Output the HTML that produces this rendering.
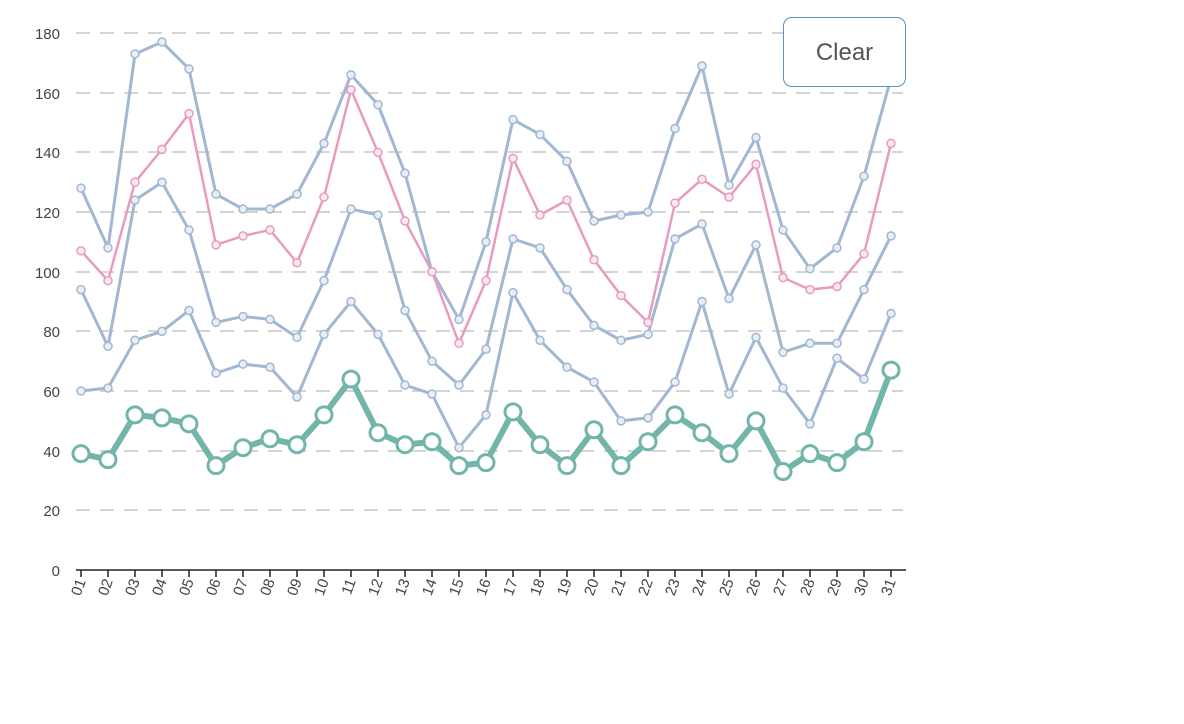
<!DOCTYPE html>
<html><head><meta charset="utf-8"><style>
html,body{margin:0;padding:0;background:#fff;width:1184px;height:724px;overflow:hidden}
svg{position:absolute;left:0;top:0}
text{font-family:"Liberation Sans",sans-serif;font-size:15px;fill:#444}
.btn{position:absolute;left:783px;top:17px;width:123px;height:70px;border:1.5px solid #5b8fcf;border-radius:9px;box-sizing:border-box;font:24px "Liberation Sans",sans-serif;color:#555;text-align:center;line-height:70px;background:#fff}
</style></head><body>
<svg id="s" width="1184" height="724">
<g stroke="#bbb" stroke-width="1.3" stroke-dasharray="14,10">
<line x1="76" x2="903" y1="33" y2="33"/><line x1="76" x2="903" y1="93" y2="93"/><line x1="76" x2="903" y1="152" y2="152"/><line x1="76" x2="903" y1="212" y2="212"/><line x1="76" x2="903" y1="272" y2="272"/><line x1="76" x2="903" y1="331" y2="331"/><line x1="76" x2="903" y1="391" y2="391"/><line x1="76" x2="903" y1="451" y2="451"/><line x1="76" x2="903" y1="510" y2="510"/>
</g>
<g text-anchor="end">
<text x="60" y="39">180</text><text x="60" y="99">160</text><text x="60" y="158">140</text><text x="60" y="218">120</text><text x="60" y="278">100</text><text x="60" y="337">80</text><text x="60" y="397">60</text><text x="60" y="457">40</text><text x="60" y="516">20</text><text x="60" y="576">0</text>
</g>
<line x1="76" x2="906" y1="570" y2="570" stroke="#222" stroke-width="1.5"/>
<g id="ticks" stroke="#222" stroke-width="1.5"></g>
<g id="series"></g>
<g text-anchor="end">
<text transform="translate(86,581) rotate(-70)">01</text><text transform="translate(113,581) rotate(-70)">02</text><text transform="translate(140,581) rotate(-70)">03</text><text transform="translate(167,581) rotate(-70)">04</text><text transform="translate(194,581) rotate(-70)">05</text><text transform="translate(221,581) rotate(-70)">06</text><text transform="translate(248,581) rotate(-70)">07</text><text transform="translate(275,581) rotate(-70)">08</text><text transform="translate(302,581) rotate(-70)">09</text><text transform="translate(329,581) rotate(-70)">10</text><text transform="translate(356,581) rotate(-70)">11</text><text transform="translate(383,581) rotate(-70)">12</text><text transform="translate(410,581) rotate(-70)">13</text><text transform="translate(437,581) rotate(-70)">14</text><text transform="translate(464,581) rotate(-70)">15</text><text transform="translate(491,581) rotate(-70)">16</text><text transform="translate(518,581) rotate(-70)">17</text><text transform="translate(545,581) rotate(-70)">18</text><text transform="translate(572,581) rotate(-70)">19</text><text transform="translate(599,581) rotate(-70)">20</text><text transform="translate(626,581) rotate(-70)">21</text><text transform="translate(653,581) rotate(-70)">22</text><text transform="translate(680,581) rotate(-70)">23</text><text transform="translate(707,581) rotate(-70)">24</text><text transform="translate(734,581) rotate(-70)">25</text><text transform="translate(761,581) rotate(-70)">26</text><text transform="translate(788,581) rotate(-70)">27</text><text transform="translate(815,581) rotate(-70)">28</text><text transform="translate(842,581) rotate(-70)">29</text><text transform="translate(869,581) rotate(-70)">30</text><text transform="translate(896,581) rotate(-70)">31</text>
</g>
</svg>
<div class="btn">Clear</div>
<script>
var NS="http://www.w3.org/2000/svg";
function X(i){return 81+27*i}function Y(v){return 570-v*2.983}
var t=document.getElementById('ticks');
for(var i=0;i<31;i++){var l=document.createElementNS(NS,'line');l.setAttribute('x1',X(i));l.setAttribute('x2',X(i));l.setAttribute('y1',570);l.setAttribute('y2',577);t.appendChild(l);}
var S=[
{c:"#a2b7d2",f:"#e8eef6",w:3,r:4,d:[60,61,77,80,87,66,69,68,58,79,90,79,62,59,41,52,93,77,68,63,50,51,63,90,59,78,61,49,71,64,86]},
{c:"#a2b7d2",f:"#e8eef6",w:3,r:4,d:[94,75,124,130,114,83,85,84,78,97,121,119,87,70,62,74,111,108,94,82,77,79,111,116,91,109,73,76,76,94,112]},
{c:"#a2b7d2",f:"#e8eef6",w:3,r:4,d:[128,108,173,177,168,126,121,121,126,143,166,156,133,100,84,110,151,146,137,117,119,120,148,169,129,145,114,101,108,132,165]},
{c:"#e99bbf",f:"#fbe9f1",w:2.5,r:4,d:[107,97,130,141,153,109,112,114,103,125,161,140,117,100,76,97,138,119,124,104,92,83,123,131,125,136,98,94,95,106,143]},
{c:"#72b5aa",f:"#fff",w:6,r:8,d:[39,37,52,51,49,35,41,44,42,52,64,46,42,43,35,36,53,42,35,47,35,43,52,46,39,50,33,39,36,43,67]}];
var g=document.getElementById('series');
S.forEach(function(s){var p=s.d.map(function(v,i){return X(i)+","+Y(v)}).join(" ");
var pl=document.createElementNS(NS,'polyline');pl.setAttribute('points',p);pl.setAttribute('fill','none');pl.setAttribute('stroke',s.c);pl.setAttribute('stroke-width',s.w);pl.setAttribute('stroke-linejoin','round');g.appendChild(pl);
s.d.forEach(function(v,i){var c=document.createElementNS(NS,'circle');c.setAttribute('cx',X(i));c.setAttribute('cy',Y(v));c.setAttribute('r',s.r);c.setAttribute('fill',s.f);c.setAttribute('stroke',s.c);c.setAttribute('stroke-width',s.r>5?3:1.5);g.appendChild(c);});});
</script>
</body></html>
